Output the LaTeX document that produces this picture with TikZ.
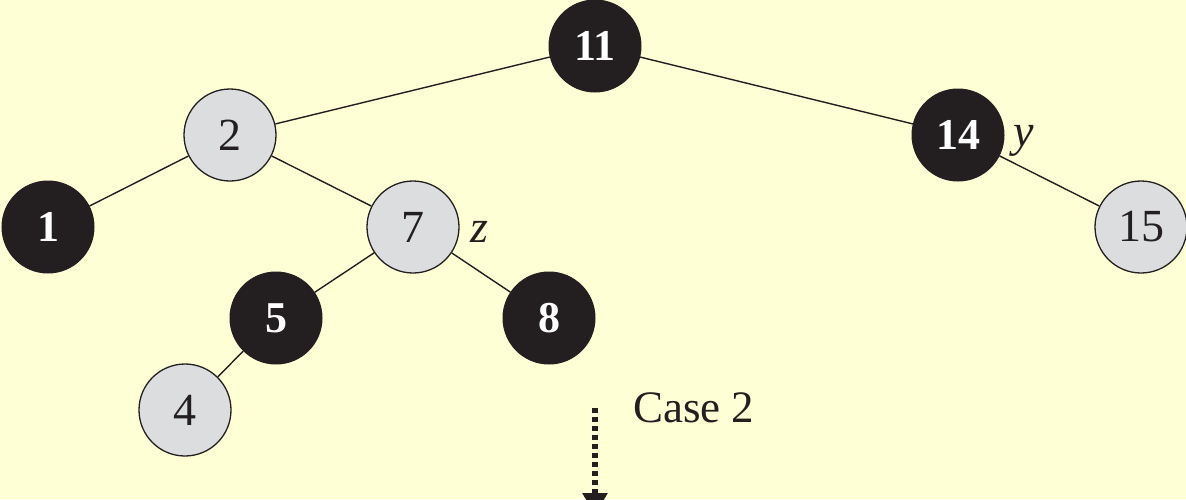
\documentclass[tikz,border=0pt]{standalone}
\usepackage{fontspec}
\setmainfont{Liberation Serif}
\usetikzlibrary{arrows.meta}
\definecolor{bg}{RGB}{255,255,213}
\definecolor{nblack}{RGB}{35,31,32}
\definecolor{ngray}{RGB}{220,221,222}
\tikzset{
  rb/.style={circle, minimum size=92pt, inner sep=0pt, fill=nblack, draw=nblack, line width=1pt, text=white, font=\fontsize{44}{52}\selectfont\bfseries},
  gr/.style={circle, minimum size=92pt, inner sep=0pt, fill=ngray, draw=nblack, line width=1.3pt, text=nblack, font=\fontsize{46}{54}\selectfont},
  edge/.style={line width=1.4pt, draw=nblack},
  lab/.style={font=\fontsize{46}{54}\selectfont\itshape, text=nblack, inner sep=0pt},
}
\begin{document}
\begin{tikzpicture}[x=1pt,y=-1pt]
\fill[bg] (0,0) rectangle (1186,499);
\useasboundingbox (0,0) rectangle (1186,499);
\node[rb] (n11) at (595,46) {11};
\node[gr] (n2) at (230,135) {2};
\node[rb] (n14) at (958,135) {14};
\node[rb] (n1) at (48,227) {1};
\node[gr] (n7) at (413,227) {7};
\node[gr] (n15) at (1141,227) {15};
\node[rb] (n5) at (276,318) {5};
\node[rb] (n8) at (549,318) {8};
\node[gr] (n4) at (185,410) {4};
\draw[edge] (n11) -- (n2);
\draw[edge] (n11) -- (n14);
\draw[edge] (n2) -- (n1);
\draw[edge] (n2) -- (n7);
\draw[edge] (n14) -- (n15);
\draw[edge] (n7) -- (n5);
\draw[edge] (n7) -- (n8);
\draw[edge] (n5) -- (n4);
\node[lab, anchor=west] (ly) at (1013,141) {y};
\node[lab, anchor=west] (lz) at (470,232) {z};
\node[font=\fontsize{45}{54}\selectfont, text=nblack, anchor=west, inner sep=0pt] (case) at (633,408) {Case 2};
\coordinate (a1) at (595,408);
\coordinate (a2) at (595,515);
\draw[line width=5.5pt, draw=nblack, dash pattern=on 5pt off 4pt, -{Triangle[width=24pt,length=22pt]}] (a1) -- (a2);
\end{tikzpicture}
\end{document}
